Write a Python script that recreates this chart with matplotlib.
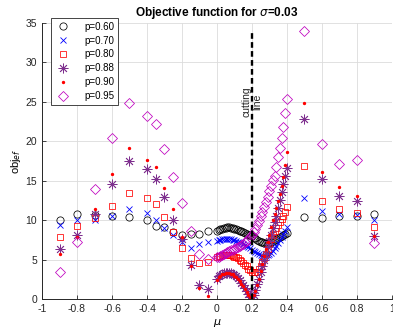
import numpy as np
import matplotlib
matplotlib.use('Agg')
import matplotlib.pyplot as plt

# mu grid: coarse on the left, dense 0..0.4, coarse on the right
mu_left = [-0.9, -0.8, -0.7, -0.6, -0.5, -0.4, -0.35, -0.3, -0.25, -0.2, -0.15, -0.1, -0.05]
mu_dense = [round(0.01 * i, 2) for i in range(41)]
mu_right = [0.5, 0.6, 0.7, 0.8, 0.9]

labels = ['p=0.60', 'p=0.70', 'p=0.80', 'p=0.88', 'p=0.90', 'p=0.95']

p060_left = [10.05, 10.8, 10.7, 10.6, 10.4, 10.0, 9.3, 9.15, 8.5, 8.1, 8.3, 8.3, 8.6]
p060_dense = [8.7, 8.8, 8.85, 8.9, 9.0, 9.05, 9.1, 9.1, 9.05, 9.0, 8.95, 8.9, 8.8, 8.7, 8.6,
              8.5, 8.4, 8.3, 8.2, 8.1, 8.0, 7.8, 7.7, 7.55, 7.4, 7.3, 7.2, 7.1, 7.1, 7.1,
              7.15, 7.3, 7.4, 7.5, 7.65, 7.8, 7.9, 8.0, 8.15, 8.3, 8.4]
p060_right = [10.4, 10.3, 10.5, 10.6, 10.8]

p070_left = [9.35, 10.1, 10.0, 10.6, 11.4, 10.9, 10.1, 9.0, 8.1, 7.2, 6.5, 7.0, 7.2]
p070_dense = [7.4, 7.5, 7.55, 7.6, 7.6, 7.65, 7.65, 7.6, 7.6, 7.55, 7.5, 7.4, 7.3, 7.2, 7.1,
              7.0, 6.9, 6.75, 6.6, 6.45, 6.3, 6.15, 6.0, 5.85, 5.7, 5.6, 5.5, 5.45, 5.45, 5.55,
              5.7, 5.9, 6.15, 6.45, 6.8, 7.1, 7.5, 7.9, 8.3, 8.7, 9.1]
p070_right = [12.8, 11.2, 10.8, 10.7, 10.1]

p080_left = [7.9, 9.3, 10.3, 11.8, 13.5, 12.8, 12.1, 10.4, 8.5, 6.5, 5.2, 4.6, 4.75]
p080_dense = [5.4, 5.45, 5.5, 5.55, 5.6, 5.6, 5.6, 5.6, 5.55, 5.5, 5.4, 5.3, 5.2, 5.0, 4.8,
              4.6, 4.4, 4.2, 3.9, 3.7, 3.5, 3.4, 3.4, 3.5, 3.8, 4.2, 4.7, 5.2, 5.8, 6.4,
              7.0, 7.6, 8.1, 8.6, 9.0, 9.4, 9.8, 10.2, 10.6, 11.1, 11.7]
p080_right = [16.9, 12.4, 11.4, 10.9, 9.2]

p088_left = [6.4, 8.1, 10.8, 14.6, 17.5, 16.5, 15.2, 12.9, 10.1, 7.6, 4.4, 1.8, 1.3]
p088_dense = [2.6, 2.9, 3.1, 3.2, 3.3, 3.35, 3.35, 3.35, 3.3, 3.2, 3.1, 2.9, 2.7, 2.4, 2.1,
              1.8, 1.4, 1.0, 0.7, 0.3, 0.05, 0.6, 1.2, 1.9, 2.6, 3.4, 4.2, 5.0, 5.8, 6.6,
              7.4, 8.2, 9.0, 9.8, 10.5, 11.5, 12.6, 13.6, 14.6, 15.6, 16.6]
p088_right = [22.8, 15.2, 13.1, 12.4, 8.0]

p090_left = [5.7, 7.9, 11.4, 15.8, 19.1, 17.6, 16.8, 14.1, 11.4, 7.9, 4.2, 1.5, 0.4]
p090_dense = [2.5, 2.8, 3.0, 3.15, 3.25, 3.3, 3.3, 3.3, 3.25, 3.15, 3.0, 2.8, 2.6, 2.3, 2.0,
              1.7, 1.3, 0.9, 0.6, 0.3, 0.1, 0.5, 1.1, 1.8, 2.6, 3.6, 4.5, 5.5, 6.4, 7.3,
              8.2, 9.1, 10.0, 10.8, 11.6, 12.4, 13.3, 14.3, 15.5, 17.0, 18.7]
p090_right = [24.8, 16.1, 14.2, 13.1, 8.0]

p095_left = [3.5, 7.25, 14.0, 20.45, 24.8, 23.2, 22.2, 19.0, 15.5, 12.15, 8.6, 5.7, 5.1]
p095_dense = [5.3, 5.4, 5.5, 5.6, 5.75, 5.9, 6.0, 6.1, 6.2, 6.3, 6.4, 6.5, 6.6, 6.7, 6.85,
              7.0, 7.2, 7.4, 7.6, 7.85, 8.1, 8.5, 8.9, 9.4, 9.9, 10.5, 11.1, 11.7, 12.3, 13.0,
              13.7, 14.4, 15.1, 15.6, 16.8, 18.0, 19.2, 20.4, 21.8, 23.6, 25.4]
p095_right = [34.0, 19.7, 17.1, 17.6, 7.1]

mu = mu_left + mu_dense + mu_right
series = [
    p060_left + p060_dense + p060_right,
    p070_left + p070_dense + p070_right,
    p080_left + p080_dense + p080_right,
    p088_left + p088_dense + p088_right,
    p090_left + p090_dense + p090_right,
    p095_left + p095_dense + p095_right,
]

purple = (0.494, 0.184, 0.556)
styles = [
    dict(marker='o', color='k', ms=5.2, mfc='none', mew=0.55),
    dict(marker='x', color='b', ms=4.8, mew=0.6),
    dict(marker='s', color='r', ms=5.0, mfc='none', mew=0.55),
    dict(marker=(8, 2, 0), color=purple, ms=7, mew=0.6),
    dict(marker='.', color='r', ms=2.8),
    dict(marker='D', color='m', ms=4.6, mfc='none', mew=0.55),
]

plt.rcParams['font.family'] = ['Liberation Sans', 'DejaVu Sans']
plt.rcParams['mathtext.fontset'] = 'dejavusans'

fig = plt.figure(figsize=(3.93, 3.33), dpi=100)
ax = fig.add_axes([0.107, 0.101, 0.890, 0.831])

for vals, lab, st in zip(series, labels, styles):
    ax.plot(mu, vals, linestyle='none', label=lab, **st)

# cutting line
ax.plot([0.2, 0.2], [0, 34], color='k', lw=1.7, dashes=(2.4, 1.4))
ax.text(0.2, 25, 'cutting\nline', rotation=90, ha='center', va='center',
        fontsize=7.5, multialignment='center', color='#222222')

ax.set_xlim(-1, 1)
ax.set_ylim(0, 35)
ax.set_xticks(np.arange(-1, 1.01, 0.2))
ax.set_xticklabels(['-1', '-0.8', '-0.6', '-0.4', '-0.2', '0', '0.2', '0.4', '0.6', '0.8', '1'])
ax.set_yticks(range(0, 36, 5))
ax.grid(True, color='#dcdcdc', lw=0.6)
ax.set_axisbelow(True)
ax.tick_params(direction='in', labelsize=7.5, colors='#262626', length=3, width=0.6)
for s in ['top', 'right']:
    ax.spines[s].set_visible(False)
for s in ['left', 'bottom']:
    ax.spines[s].set_color('#262626')
    ax.spines[s].set_linewidth(0.7)

ax.set_title(r'Objective function for $\sigma$=0.03', fontsize=8.5, fontweight='bold', pad=5)
ax.set_xlabel(r'$\mu$', fontsize=8, labelpad=2)
ax.set_ylabel(r'obj$_{ef}$', fontsize=8, labelpad=2)

leg = ax.legend(loc='upper left', bbox_to_anchor=(0.012, 1.035), fontsize=7, frameon=True,
                fancybox=False, edgecolor='#262626', handletextpad=1.4, labelspacing=0.4,
                borderpad=0.4, handlelength=1.6, framealpha=1)
leg.get_frame().set_linewidth(0.6)

plt.savefig('out.png', dpi=100)
